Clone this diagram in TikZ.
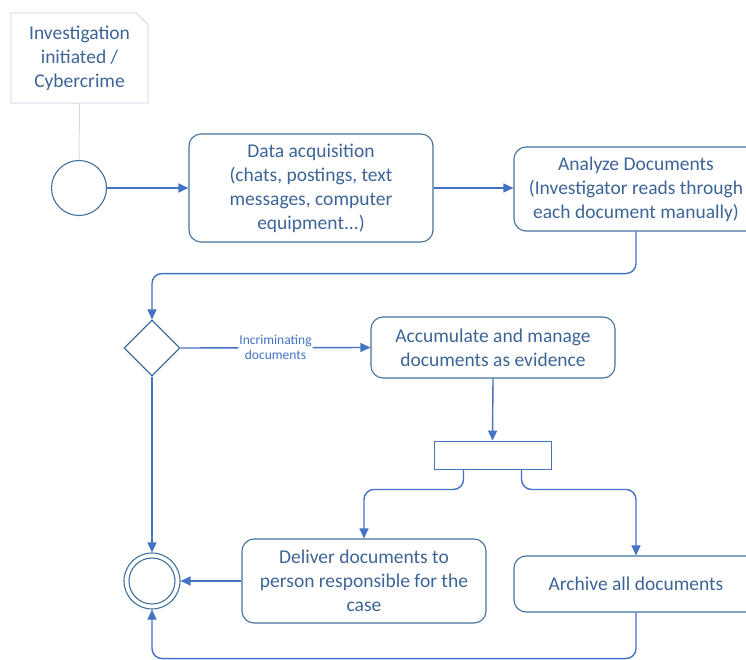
\documentclass[tikz,border=0pt]{standalone}
\usepackage{fontspec}
\setmainfont{Carlito}
\usetikzlibrary{arrows.meta,shapes.geometric,calc}
\definecolor{boxline}{RGB}{65,113,156}
\definecolor{flowline}{RGB}{68,114,196}
\definecolor{txt}{RGB}{60,100,150}
\definecolor{noteline}{RGB}{215,220,226}
\tikzset{
  activity/.style={draw=boxline, line width=1.1pt, rounded corners=12pt,
    minimum width=244pt, align=center, text=txt, inner sep=2pt,
    font=\fontsize{19.5}{24}\selectfont},
  flow/.style={draw=flowline, line width=1.4pt, rounded corners=10pt,
    -{Triangle[length=10pt,width=9pt]}},
  startnode/.style={circle, draw=boxline, line width=1.1pt, minimum size=55pt, inner sep=0pt},
  decision/.style={diamond, draw=boxline, line width=1.1pt, minimum width=56pt,
    minimum height=56pt, inner sep=0pt},
  forkbar/.style={rectangle, draw=flowline, line width=0.9pt, minimum width=117pt,
    minimum height=28pt, inner sep=0pt},
  edgelabel/.style={fill=white, text=flowline, align=center, inner sep=1pt,
    font=\fontsize{13.5}{15}\selectfont},
}
\begin{document}
\begin{tikzpicture}[x=1pt,y=-1pt]
\path[use as bounding box] (0,0) rectangle (746,660);

% comment note
\node[minimum width=137pt, minimum height=90pt, inner sep=0pt, align=center,
  text=txt, font=\fontsize{19.5}{24}\selectfont] (note) at (79.5,58)
  {Investigation\\initiated /\\Cybercrime};
\draw[noteline, line width=1pt]
  (note.north west) -- ($(note.north east)+(-12,0)$) -- ($(note.north east)+(0,12)$)
  -- (note.south east) -- (note.south west) -- cycle;

% nodes
\node[startnode] (start) at (79,188) {};
\node[activity, minimum height=108pt] (acq) at (311,188)
  {Data acquisition\\(chats, postings, text\\messages, computer\\equipment...)};
\node[activity, minimum height=84pt] (ana) at (636,189)
  {Analyze Documents\\(Investigator reads through\\each document manually)};
\node[decision] (dec) at (152,348) {};
\node[activity, minimum height=61pt] (acc) at (493,347.5)
  {Accumulate and manage\\documents as evidence};
\node[forkbar] (bar) at (492.5,455) {};
\node[activity, minimum height=84pt] (del) at (364,581)
  {Deliver documents to\\person responsible for the\\case};
\node[activity, minimum height=56pt] (arc) at (636,584) {Archive all documents};
\node[circle, draw=boxline, line width=1.1pt, minimum size=56pt, inner sep=0pt] (end) at (152,581) {};
\draw[boxline, line width=1.1pt] (end.center) circle (23);

% connectors
\draw[noteline, line width=1pt] (note.south) -- (start.north);
\draw[flow] (start.east) -- (acq.west);
\draw[flow] (acq.east) -- (acq.east -| ana.west);
\draw[flow] (ana.south) -- ++(0,42) -| (dec.north);
\draw[flow] (dec.east) -- node[edgelabel] {Incriminating\\documents} (acc.west);
\draw[flow] (acc.south) -- (bar.north);
\draw[flow] ($(bar.south)+(-29,0)$) -- ++(0,20) -| (del.north);
\draw[flow] ($(bar.south)+(29,0)$) -- ++(0,20) -| (arc.north);
\draw[flow] (dec.south) -- (end.north);
\draw[flow] (del.west) -- (end.east);
\draw[flow] (arc.south) -- ++(0,46) -| (end.south);
\end{tikzpicture}
\end{document}
